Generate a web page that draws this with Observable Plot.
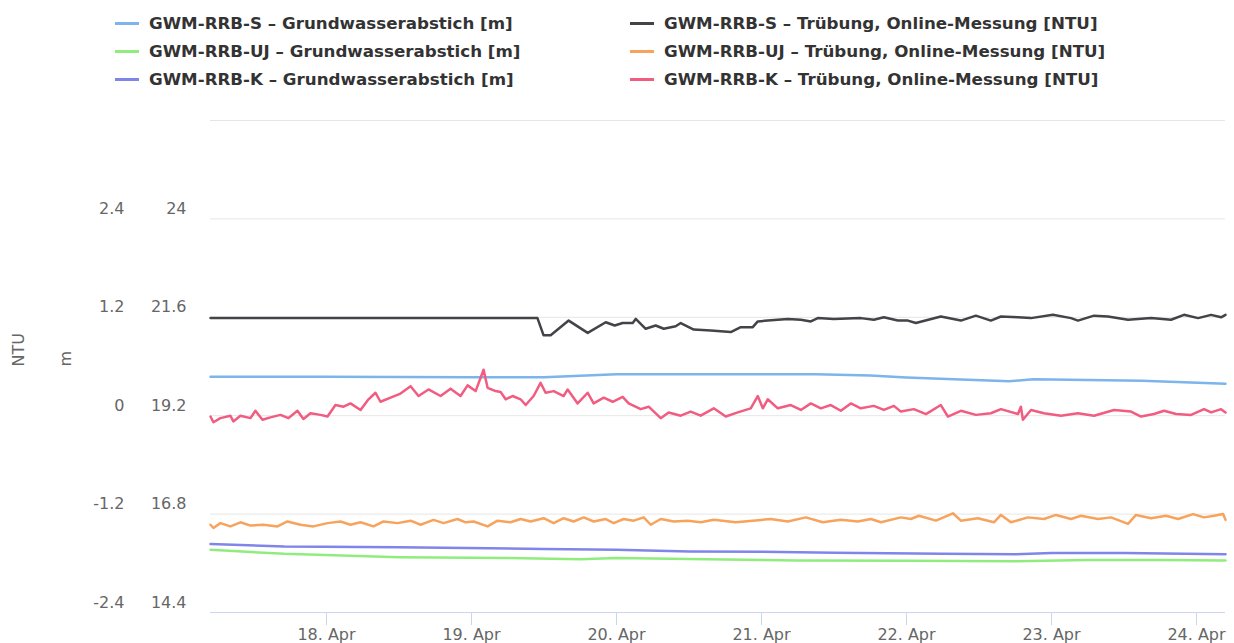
<!DOCTYPE html>
<html>
<head>
<meta charset="utf-8">
<script src="https://cdn.jsdelivr.net/npm/d3@7"></script>
<script src="https://cdn.jsdelivr.net/npm/@observablehq/plot@0.6"></script>
<style>
  html, body { margin: 0; padding: 0; background: #fff; overflow: hidden; }
  body { width: 1234px; height: 643px; font-family: "DejaVu Sans", sans-serif; }
  #legend { position: relative; width: 1234px; height: 100px; }
  .item { position: absolute; display: flex; align-items: center; height: 20px;
          font-weight: bold; font-size: 16.7px; color: #333; white-space: nowrap; }
  .sw { display: inline-block; width: 24px; height: 3px; margin-right: 10px; }
  #chart svg { display: block; }
</style>
</head>
<body>
<div id="legend"></div>
<div id="chart"></div>
<script>
// ---------- data ----------
const seriesNames = [
  "GWM-RRB-S – Grundwasserabstich [m]",
  "GWM-RRB-S – Trübung, Online-Messung [NTU]",
  "GWM-RRB-UJ – Grundwasserabstich [m]",
  "GWM-RRB-UJ – Trübung, Online-Messung [NTU]",
  "GWM-RRB-K – Grundwasserabstich [m]",
  "GWM-RRB-K – Trübung, Online-Messung [NTU]"
];
const seriesColors = ["#7cb5ec", "#434348", "#90ed7d", "#f7a35c", "#8085e9", "#f15c80"];
const seriesUnits = ["m", "NTU", "m", "NTU", "m", "NTU"];

const ntuTicks = [-2.4, -1.2, 0, 1.2, 2.4];
const mTicks = [14.4, 16.8, 19.2, 21.6, 24];
const gridNtu = [-1.2, 0, 1.2, 2.4, 3.6];
const dayTicks = ["18", "19", "20", "21", "22", "23", "24"];
const dayLabels = ["18. Apr", "19. Apr", "20. Apr", "21. Apr", "22. Apr", "23. Apr", "24. Apr"];
const timeRange = ["17 04:48", "24 04:48"];

// Grundwasserabstich [m]
const gwS = [["17 04:48",20.15],["18 00:00",20.15],["19 00:00",20.14],["19 12:00",20.14],["20 00:00",20.21],["20 12:00",20.21],["21 09:00",20.21],["21 18:00",20.18],["22 00:00",20.13],["22 09:00",20.08],["22 17:00",20.04],["22 21:00",20.09],["23 06:00",20.07],["23 15:00",20.05],["24 04:48",19.98]];
const gwUJ = [["17 04:48",15.93],["17 17:00",15.83],["18 12:00",15.75],["19 06:00",15.73],["19 18:00",15.70],["20 00:00",15.73],["20 18:00",15.69],["21 06:00",15.67],["22 00:00",15.66],["22 18:00",15.65],["23 06:00",15.68],["23 18:00",15.68],["24 04:48",15.67]];
const gwK = [["17 04:48",16.07],["17 17:00",16.01],["18 12:00",15.99],["19 12:00",15.95],["20 00:00",15.93],["20 12:00",15.89],["21 00:00",15.88],["21 12:00",15.86],["22 06:00",15.83],["22 18:00",15.82],["23 00:00",15.85],["23 12:00",15.85],["24 04:48",15.82]];

// Trübung, Online-Messung [NTU]
const turbS = [["17 04:48",1.19],["19 10:55",1.19],["19 11:56",0.98],["19 13:06",0.98],["19 16:05",1.16],["19 19:14",1.01],["19 22:13",1.14],["19 23:42",1.10],["20 01:01",1.13],["20 02:41",1.13],["20 03:11",1.18],["20 04:50",1.06],["20 06:29",1.10],["20 07:49",1.06],["20 09:48",1.09],["20 10:38",1.13],["20 12:47",1.05],["20 15:36",1.04],["20 18:55",1.02],["20 20:34",1.08],["20 22:33",1.08],["20 23:23",1.15],["21 01:02",1.16],["21 04:21",1.18],["21 06:31",1.17],["21 08:10",1.15],["21 09:19",1.19],["21 11:58",1.18],["21 16:26",1.19],["21 18:36",1.17],["21 20:15",1.20],["21 22:34",1.16],["22 00:14",1.16],["22 01:33",1.13],["22 05:41",1.21],["22 09:00",1.16],["22 11:29",1.22],["22 13:58",1.16],["22 15:38",1.21],["22 18:27",1.20],["22 20:36",1.19],["23 00:14",1.23],["23 03:14",1.19],["23 04:23",1.16],["23 07:02",1.22],["23 09:21",1.21],["23 12:40",1.17],["23 16:29",1.19],["23 19:47",1.17],["23 21:56",1.23],["24 00:16",1.19],["24 02:25",1.23],["24 04:04",1.20],["24 04:48",1.23]];
const turbUJ = [["17 04:48",-1.33],["17 05:17",-1.37],["17 06:26",-1.31],["17 08:06",-1.35],["17 09:45",-1.30],["17 11:25",-1.34],["17 13:34",-1.33],["17 15:53",-1.35],["17 17:32",-1.29],["17 19:41",-1.33],["17 21:50",-1.35],["18 00:10",-1.31],["18 02:19",-1.29],["18 03:58",-1.33],["18 05:38",-1.30],["18 07:47",-1.35],["18 09:26",-1.29],["18 11:46",-1.31],["18 13:55",-1.28],["18 15:34",-1.33],["18 17:43",-1.27],["18 19:23",-1.31],["18 21:41",-1.26],["18 23:01",-1.30],["19 00:21",-1.29],["19 02:40",-1.35],["19 04:19",-1.28],["19 06:28",-1.30],["19 08:08",-1.26],["19 09:47",-1.29],["19 11:56",-1.25],["19 13:36",-1.31],["19 15:15",-1.25],["19 16:55",-1.29],["19 18:34",-1.24],["19 20:13",-1.29],["19 22:13",-1.26],["19 23:32",-1.31],["20 01:11",-1.26],["20 02:51",-1.28],["20 04:30",-1.24],["20 05:40",-1.33],["20 07:19",-1.26],["20 09:28",-1.29],["20 11:47",-1.28],["20 13:56",-1.30],["20 16:06",-1.27],["20 19:44",-1.30],["20 22:33",-1.28],["21 01:32",-1.26],["21 04:21",-1.29],["21 07:20",-1.24],["21 10:09",-1.30],["21 13:08",-1.27],["21 15:57",-1.29],["21 18:06",-1.26],["21 19:46",-1.30],["21 23:04",-1.24],["22 00:43",-1.26],["22 02:03",-1.22],["22 04:52",-1.28],["22 07:41",-1.19],["22 09:00",-1.28],["22 11:49",-1.25],["22 14:28",-1.30],["22 15:38",-1.21],["22 17:17",-1.30],["22 20:06",-1.24],["22 22:45",-1.26],["23 00:44",-1.21],["23 03:14",-1.26],["23 04:53",-1.22],["23 07:42",-1.26],["23 09:51",-1.24],["23 12:40",-1.32],["23 13:59",-1.21],["23 16:29",-1.25],["23 18:58",-1.22],["23 20:57",-1.26],["23 23:26",-1.20],["24 01:15",-1.24],["24 02:55",-1.22],["24 04:24",-1.20],["24 04:48",-1.27]];
const turbK = [["17 04:48",-0.01],["17 05:17",-0.08],["17 06:26",-0.03],["17 08:06",0.00],["17 08:35",-0.07],["17 09:45",0.00],["17 11:25",-0.03],["17 12:14",0.06],["17 13:24",-0.05],["17 14:43",-0.02],["17 16:23",0.01],["17 17:42",-0.03],["17 19:11",0.06],["17 20:11",-0.04],["17 21:21",0.03],["17 23:00",0.01],["18 00:10",-0.01],["18 01:29",0.13],["18 02:49",0.11],["18 03:58",0.15],["18 05:38",0.07],["18 06:57",0.20],["18 08:07",0.28],["18 08:56",0.17],["18 10:36",0.22],["18 12:15",0.27],["18 13:55",0.36],["18 15:14",0.24],["18 16:53",0.32],["18 18:53",0.24],["18 20:32",0.33],["18 22:11",0.24],["18 23:21",0.37],["19 00:41",0.30],["19 02:00",0.56],["19 02:40",0.34],["19 03:59",0.30],["19 04:49",0.29],["19 05:39",0.20],["19 06:48",0.24],["19 08:08",0.20],["19 08:58",0.13],["19 10:17",0.24],["19 11:26",0.40],["19 12:16",0.28],["19 13:36",0.30],["19 15:15",0.24],["19 15:55",0.32],["19 17:34",0.15],["19 19:14",0.28],["19 20:13",0.15],["19 21:53",0.22],["19 23:22",0.17],["20 01:01",0.23],["20 02:01",0.15],["20 04:00",0.08],["20 05:20",0.11],["20 07:19",-0.03],["20 08:38",0.04],["20 10:38",0.00],["20 12:17",0.05],["20 13:56",0.00],["20 16:06",0.09],["20 18:05",-0.01],["20 20:04",0.04],["20 22:13",0.09],["20 23:23",0.24],["21 00:13",0.09],["21 01:02",0.20],["21 02:42",0.09],["21 04:51",0.13],["21 06:31",0.07],["21 08:10",0.15],["21 09:49",0.09],["21 11:28",0.13],["21 13:08",0.06],["21 14:47",0.15],["21 16:26",0.09],["21 18:36",0.12],["21 20:15",0.07],["21 21:55",0.12],["21 23:04",0.05],["22 01:13",0.08],["22 03:13",0.02],["22 05:41",0.13],["22 06:51",-0.01],["22 09:00",0.06],["22 11:29",0.01],["22 13:58",0.03],["22 15:38",0.08],["22 18:27",0.02],["22 18:56",0.11],["22 19:16",-0.05],["22 20:36",0.07],["22 22:45",0.03],["23 01:34",0.00],["23 04:23",0.03],["23 07:02",0.00],["23 10:21",0.07],["23 13:10",0.05],["23 14:49",-0.01],["23 16:58",0.02],["23 18:38",0.06],["23 20:37",0.02],["23 23:06",0.01],["24 01:15",0.08],["24 02:25",0.04],["24 04:04",0.08],["24 04:48",0.04]];

const seriesData = [gwS, turbS, gwUJ, turbUJ, gwK, turbK];

// ---------- helpers ----------
const parseT = s => new Date(`2019-04-${s.slice(0, 2)}T${s.slice(3)}:00Z`);
const parseDay = s => new Date(`2019-04-${s}T00:00:00Z`);
// the m axis is drawn against the NTU scale: 19.2 m ↔ 0 NTU, 2.4 m per 1.2 NTU
const mToNtu = m => (m - 19.2) / 2;
const labelByTime = new Map(dayTicks.map((d, i) => [+parseDay(d), dayLabels[i]]));

// ---------- legend ----------
const legend = document.getElementById("legend");
seriesNames.forEach((name, i) => {
  const col = i % 2, row = Math.floor(i / 2);
  const el = document.createElement("div");
  el.className = "item";
  el.style.left = (col === 0 ? 115 : 630) + "px";
  el.style.top = (13 + row * 28) + "px";
  el.innerHTML = `<span class="sw" style="background:${seriesColors[i]}"></span><span></span>`;
  el.lastChild.textContent = name;
  legend.appendChild(el);
});

// ---------- chart ----------
const lineMarks = seriesData.map((data, i) =>
  Plot.lineY(data, {
    x: d => parseT(d[0]),
    y: d => seriesUnits[i] === "m" ? mToNtu(d[1]) : d[1],
    stroke: seriesColors[i],
    strokeWidth: 2.5,
    strokeLinejoin: "round",
    strokeLinecap: "round"
  })
);

const chart = Plot.plot({
  width: 1234,
  height: 543,
  marginTop: 20,
  marginBottom: 31,
  marginLeft: 210,
  marginRight: 9,
  style: { fontFamily: "DejaVu Sans, sans-serif", fontSize: "16px", background: "#fff" },
  x: { type: "utc", domain: timeRange.map(parseT) },
  y: { domain: [-2.4, 3.6], axis: null },
  marks: [
    Plot.gridY(gridNtu, { stroke: "#e6e6e6", strokeOpacity: 1 }),
    Plot.ruleY([-2.4], { stroke: "#ccd6eb", strokeWidth: 1.2 }),
    Plot.axisX(dayTicks.map(parseDay), {
      tickSize: 13, tickPadding: 3, stroke: "#ccd6eb", fill: "#666", fontSize: 16,
      tickFormat: d => labelByTime.get(+d), label: null
    }),
    Plot.text(ntuTicks, { y: d => d, text: d => String(d), frameAnchor: "left", textAnchor: "end",
      dx: -86, dy: -10, fill: "#666", fontSize: 16 }),
    Plot.text(mTicks, { y: d => mToNtu(d), text: d => String(d), frameAnchor: "left", textAnchor: "end",
      dx: -24, dy: -10, fill: "#666", fontSize: 16 }),
    Plot.text(["NTU"], { frameAnchor: "left", dx: -192, rotate: -90, fill: "#666", fontSize: 16 }),
    Plot.text(["m"], { frameAnchor: "left", dx: -145, rotate: -90, fill: "#666", fontSize: 16 }),
    ...lineMarks
  ]
});
document.getElementById("chart").appendChild(chart);
</script>
</body>
</html>
